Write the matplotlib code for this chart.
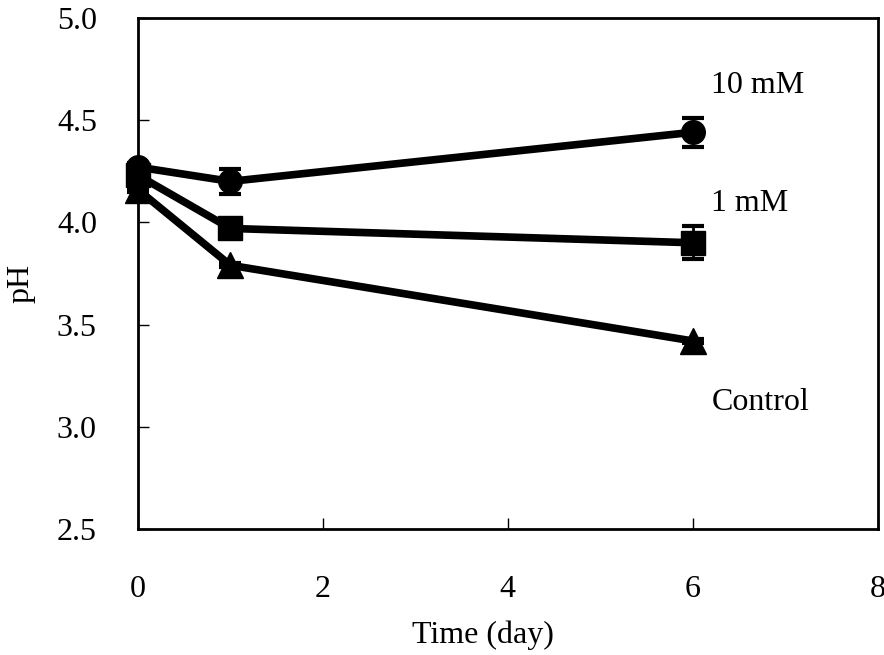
import matplotlib
matplotlib.use("Agg")
import matplotlib.pyplot as plt

days = [0, 1, 6]
ph_10mm = [4.27, 4.20, 4.44]
err_10mm = [0.02, 0.06, 0.07]
ph_1mm = [4.23, 3.97, 3.90]
err_1mm = [0.02, 0.02, 0.08]
ph_control = [4.16, 3.79, 3.42]
err_control = [0.01, 0.01, 0.01]

labels = ["10 mM", "1 mM", "Control"]
label_y = [4.67, 4.09, 3.12]

plt.rcParams["font.family"] = ["Liberation Serif", "DejaVu Serif"]
fs = 23

fig = plt.figure(figsize=(8.84, 6.55), dpi=100)
ax = fig.add_axes([0.156, 0.192, 0.837, 0.781])

series = [
    (ph_control, err_control, "^", 19),
    (ph_1mm, err_1mm, "s", 17),
    (ph_10mm, err_10mm, "o", 17),
]
for y, e, m, size in series:
    ax.errorbar(days, y, yerr=e, color="black", lw=5.5, marker=m, ms=size,
                capsize=8, elinewidth=2, capthick=3, clip_on=False, zorder=3)

for lab, ly in zip(labels, label_y):
    ax.text(6.2, ly, lab, fontsize=fs, va="center", ha="left")

ax.set_xlim(0, 8)
ax.set_ylim(2.5, 5.0)
ax.set_xticks([0, 2, 4, 6, 8])
ax.set_yticks([2.5, 3.0, 3.5, 4.0, 4.5, 5.0])
ax.set_yticklabels(["2.5", "3.0", "3.5", "4.0", "4.5", "5.0"])
ax.tick_params(direction="in", length=8, width=1, labelsize=fs)
ax.tick_params(axis="x", pad=33)
ax.tick_params(axis="y", pad=29.5)
for s in ax.spines.values():
    s.set_linewidth(2)

ax.set_xlabel("Time (day)", fontsize=fs)
ax.xaxis.set_label_coords(0.466, -0.178)
ax.set_ylabel("pH", fontsize=fs)
ax.yaxis.set_label_coords(-0.139, 0.481)

fig.savefig("out.png", dpi=100)
